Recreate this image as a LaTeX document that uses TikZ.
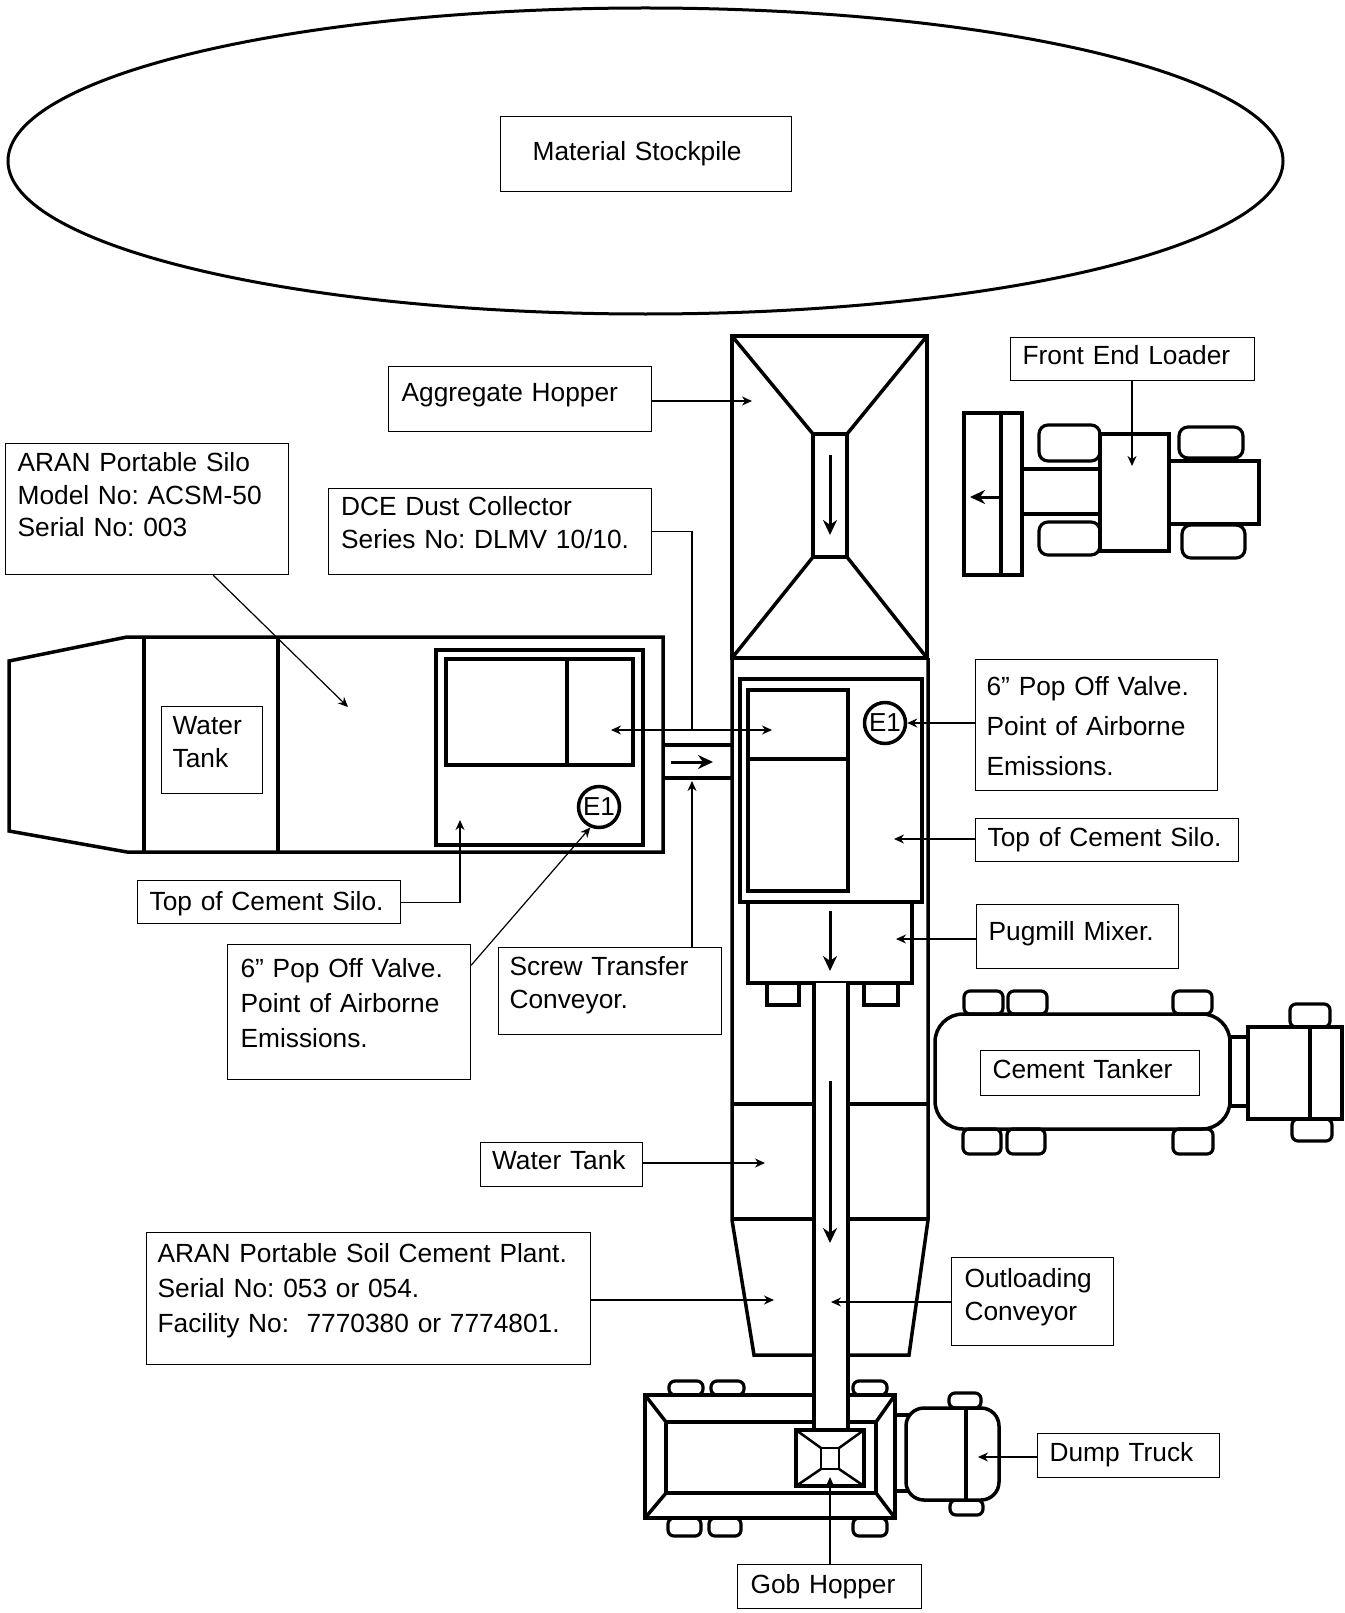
\documentclass[tikz,border=0pt]{standalone}
\usepackage{fontspec}
\setmainfont{Liberation Sans}
\usetikzlibrary{arrows.meta}
\frenchspacing
\tikzset{lab/.style = {
   rectangle, draw, line width=1.2pt,
   anchor=north west, align=left,
   inner ysep=0pt, inner xsep=12pt,
   font=\fontsize{26.3}{32.5}\selectfont
}}
\tikzset{emit/.style={circle, draw, line width=3.5pt, inner sep=0pt, minimum size=41pt, font=\fontsize{26}{30}\selectfont}}
\tikzset{wall/.style={line width=3.5pt, line join=miter}}
\tikzset{wheel/.style={line width=3.2pt, rounded corners=6pt, fill=white}}
\tikzset{lead/.style={line width=1.2pt, -{Stealth[length=10pt,width=9pt]}}}
\tikzset{flow/.style={line width=3pt, -{Stealth[length=15pt,width=14pt]}}}

\begin{document}
\begin{tikzpicture}[x=1pt,y=-1pt]

    \useasboundingbox (0,0) rectangle (1344,1613);

    % stockpile
    \draw[line width=3pt] (645.5,161) ellipse (637.5 and 153);
    \node[lab, inner xsep=32pt, text width=227pt, text height=44pt, text depth=31pt] (stock) at (500,116) {Material Stockpile};

    % portable silo
    \draw[wall] (9,661) -- (127,637) -- (663,637) -- (663,852) -- (127,852) -- (9,831) -- cycle;
    \draw[wall] (144,637) -- (144,852);
    \draw[wall] (278,637) -- (278,852);
    \draw[wall] (436,650) rectangle (643,845);
    \draw[wall] (446,659) rectangle (633,765);
    \draw[wall] (567,659) -- (567,765);
    \node[emit] (e1l) at (599,807) {E1};
    \draw[wall] (663,745) -- (732,745);
    \draw[wall] (663,778) -- (732,778);
    \draw[flow] (671,762) -- (713,762);

    % plant
    \draw[wall] (732,336) rectangle (927,658);
    \draw[wall] (732,336) -- (813,434);
    \draw[wall] (927,336) -- (847,434);
    \draw[wall] (732,658) -- (813,557);
    \draw[wall] (927,658) -- (847,557);
    \draw[wall] (813,434) rectangle (847,557);
    \draw[flow] (830,455) -- (830,535);
    \draw[wall] (732,658) -- (732,1220) -- (754,1355) -- (909,1355) -- (928,1220) -- (928,658);
    \draw[wall] (732,1104) -- (928,1104);
    \draw[wall] (732,1219) -- (928,1219);
    \draw[wall] (740,679) rectangle (922,902);
    \draw[wall] (748,690) rectangle (848,891);
    \draw[wall] (748,759) -- (848,759);
    \node[emit] (e1r) at (885,723) {E1};
    \draw[wall] (767,983) rectangle (799,1005);
    \draw[wall] (864,983) rectangle (898,1005);
    \draw[wall, fill=white] (748,902) rectangle (912,983);
    \draw[flow] (830,911) -- (830,971);

    % loader
    \draw[wheel, rounded corners=9pt] (1039,425) rectangle (1100,461);
    \draw[wheel, rounded corners=9pt] (1039,522) rectangle (1100,555);
    \draw[wheel, rounded corners=9pt] (1179,427) rectangle (1243,458);
    \draw[wheel, rounded corners=9pt] (1182,525) rectangle (1245,558);
    \draw[wall] (964,413) rectangle (1022,575);
    \draw[wall] (1001,413) -- (1001,575);
    \draw[wall] (1022,469) rectangle (1100,514);
    \draw[wall] (1100,434) rectangle (1169,551);
    \draw[wall] (1169,461) rectangle (1259,524);
    \draw[flow] (1001,497) -- (970,497);

    % tanker
    \draw[wheel] (964,991) rectangle (1003,1014);
    \draw[wheel] (1008,991) rectangle (1047,1014);
    \draw[wheel] (1173,991) rectangle (1212,1014);
    \draw[wheel] (963,1129) rectangle (1001,1154);
    \draw[wheel] (1007,1129) rectangle (1045,1154);
    \draw[wheel] (1173,1129) rectangle (1213,1154);
    \draw[wheel] (1290,1004) rectangle (1330,1027);
    \draw[wheel] (1292,1119) rectangle (1332,1141);
    \draw[wall, rounded corners=28pt] (935,1014) rectangle (1230,1129);
    \draw[wall] (1230,1037) rectangle (1248,1106);
    \draw[wall] (1248,1027) rectangle (1342,1119);
    \draw[wall] (1310,1027) -- (1310,1119);

    % dump truck
    \draw[wheel] (669,1381) rectangle (703,1395);
    \draw[wheel] (711,1381) rectangle (744,1395);
    \draw[wheel] (853,1381) rectangle (887,1395);
    \draw[wheel] (668,1518) rectangle (701,1536);
    \draw[wheel] (709,1518) rectangle (741,1536);
    \draw[wheel] (853,1518) rectangle (887,1536);
    \draw[wheel] (949,1393) rectangle (981,1408);
    \draw[wheel] (950,1500) rectangle (983,1515);
    \draw[wall] (645,1395) rectangle (895,1518);
    \draw[wall] (666,1422) rectangle (876,1493);
    \draw[wall] (645,1395) -- (666,1422);
    \draw[wall] (895,1395) -- (876,1422);
    \draw[wall] (645,1518) -- (666,1493);
    \draw[wall] (895,1518) -- (876,1493);
    \draw[wall] (895,1415) rectangle (911,1491);
    \draw[wall, fill=white, rounded corners=18pt] (906,1408) rectangle (999,1500);
    \draw[wall] (966,1408) -- (966,1500);

    % outloading conveyor and gob hopper
    \fill[white] (814,983) rectangle (848,1430);
    \draw[wall] (814,983) -- (814,1430);
    \draw[wall] (848,983) -- (848,1430);
    \draw[flow] (830,1081) -- (830,1243);
    \draw[wall, fill=white] (796,1430) rectangle (864,1486);
    \draw[line width=2.5pt] (821,1448) rectangle (839,1469);
    \draw[line width=2.5pt] (796,1430) -- (821,1448);
    \draw[line width=2.5pt] (864,1430) -- (839,1448);
    \draw[line width=2.5pt] (796,1486) -- (821,1469);
    \draw[line width=2.5pt] (864,1486) -- (839,1469);

    % labels
    \node[lab, inner xsep=13pt, text width=237pt, text height=35pt, text depth=30pt] (agg) at (388,366) {Aggregate Hopper};
    \node[lab, text width=259pt, text height=28pt, text depth=103pt] (silo) at (5,443) {ARAN Portable Silo\\Model No: ACSM-50\\Serial No: 003};
    \node[lab, inner xsep=12.5pt, text width=298pt, text height=27pt, text depth=59pt] (dce) at (328,488) {DCE Dust Collector\\Series No: DLMV 10/10.};
    \node[lab, inner xsep=11pt, text width=79pt, text height=28pt, text depth=59pt] (wtl) at (161,706) {Water\\Tank};
    \node[lab, text width=220pt, text height=27pt, text depth=16pt] (fel) at (1010,337) {Front End Loader};
    \node[lab, inner xsep=11pt, text width=220pt, text height=36pt, text depth=95pt] (popr) at (975,659) {6” Pop Off Valve.\\[7.5pt]Point of Airborne\\[7.5pt]Emissions.};
    \node[lab, text width=239pt, text height=28.5pt, text depth=15pt] (topr) at (975,817.5) {Top of Cement Silo.};
    \node[lab, text width=178pt, text height=35.5pt, text depth=28.5pt] (pug) at (976,904) {Pugmill Mixer.};
    \node[lab, text width=195pt, text height=27.5pt, text depth=17.5pt] (tank) at (980,1050) {Cement Tanker};
    \node[lab, inner xsep=13pt, text width=136pt, text height=30pt, text depth=58pt] (out) at (951,1257) {Outloading\\Conveyor};
    \node[lab, inner xsep=12.5pt, text width=157.5pt, text height=28pt, text depth=16pt] (dump) at (1036.5,1433) {Dump Truck};
    \node[lab, inner xsep=13pt, text width=158pt, text height=28.5pt, text depth=15.5pt] (gob) at (737,1564) {Gob Hopper};
    \node[lab, text width=239pt, text height=30pt, text depth=13pt] (topl) at (137,880) {Top of Cement Silo.};
    \node[lab, inner xsep=13pt, text width=217pt, text height=33pt, text depth=102pt] (popl) at (227,944) {6” Pop Off Valve.\\[2.5pt]Point of Airborne\\[2.5pt]Emissions.};
    \node[lab, inner xsep=11pt, text width=201pt, text height=28pt, text depth=59pt] (screw) at (498,947) {Screw Transfer\\Conveyor.};
    \node[lab, inner xsep=11.5pt, text width=139pt, text height=27pt, text depth=17pt] (wtr) at (480,1142) {Water Tank};
    \node[lab, inner xsep=11pt, text width=422pt, text height=30pt, text depth=102pt] (plant) at (146,1232) {ARAN Portable Soil Cement Plant.\\[2.5pt]Serial No: 053 or 054.\\[2.5pt]Facility No:\ \ 7770380 or 7774801.};

    % arrow ends
    \coordinate (tagg) at (752,401);
    \coordinate (tsilo) at (348,707);
    \coordinate (tdcel) at (611,730);
    \coordinate (tdcer) at (772,730);
    \coordinate (jdce) at (692,730);
    \coordinate (tscrew) at (692,781);
    \coordinate (tfel) at (1132,466);
    \coordinate (ttopr) at (894,839);
    \coordinate (tpug) at (896,939);
    \coordinate (ttopl) at (460,820);
    \coordinate (twtr) at (765,1163);
    \coordinate (tplant) at (774,1300);
    \coordinate (tout) at (831,1302);
    \coordinate (tdump) at (978,1457);
    \coordinate (tgob) at (830,1477);

    \draw[lead] (agg.east |- tagg) -- (tagg);
    \draw[lead] (silo.-45.9) -- (tsilo);
    \draw[line width=1.2pt] (dce.east) -| (jdce);
    \draw[lead, {Stealth[length=10pt,width=9pt]}-{Stealth[length=10pt,width=9pt]}] (tdcel) -- (tdcer);
    \draw[lead] (screw.north -| tscrew) -- (tscrew);
    \draw[lead] (fel.south -| tfel) -- (tfel);
    \draw[lead] (popr.west |- e1r) -- (e1r.east);
    \draw[lead] (topr.west |- ttopr) -- (ttopr);
    \draw[lead] (pug.west |- tpug) -- (tpug);
    \draw[lead] (topl.east) -| (ttopl);
    \draw[lead] (popl.21.35) -- (e1l.247);
    \draw[lead] (wtr.east |- twtr) -- (twtr);
    \draw[lead] (plant.east |- tplant) -- (tplant);
    \draw[lead] (out.west |- tout) -- (tout);
    \draw[lead] (dump.west |- tdump) -- (tdump);
    \draw[lead] (gob.north -| tgob) -- (tgob);

  \end{tikzpicture}
\end{document}
